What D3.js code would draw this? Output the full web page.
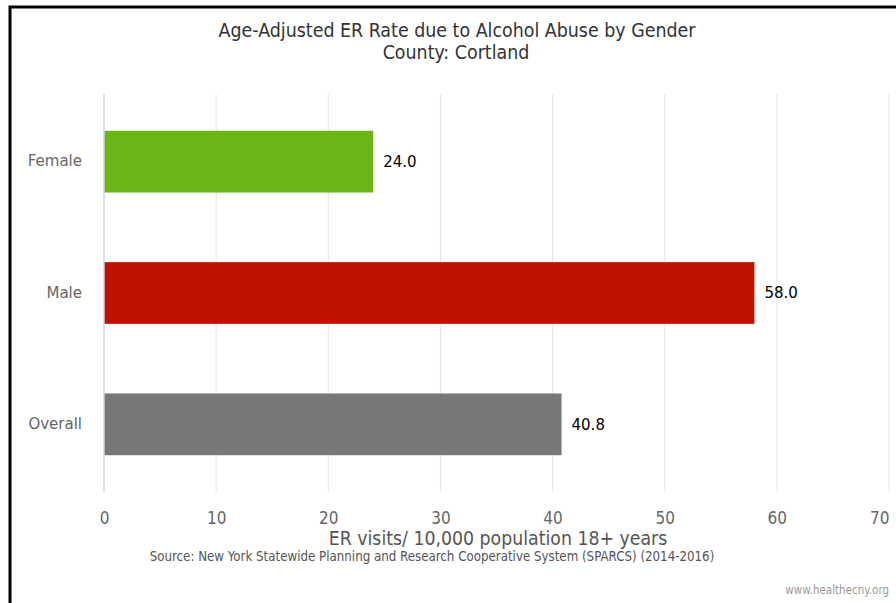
<!DOCTYPE html>
<html><head><meta charset="utf-8">
<script src="https://cdn.jsdelivr.net/npm/d3@7"></script>
<style>
html,body{margin:0;padding:0;background:#fff;}
svg{display:block;}
</style></head>
<body>
<svg id="chart" width="896" height="603"></svg>
<script>
const categories = ["Female", "Male", "Overall"];
const values = [24.0, 58.0, 40.8];
const barColors = ["#6bb516", "#bf1300", "#777777"];
const xTicks = [0, 10, 20, 30, 40, 50, 60, 70];
const titleLines = ["Age-Adjusted ER Rate due to Alcohol Abuse by Gender", "County: Cortland"];
const axisTitle = "ER visits/ 10,000 population 18+ years";
const sourceText = "Source: New York Statewide Planning and Research Cooperative System (SPARCS) (2014-2016)";
const creditText = "www.healthecny.org";

const svg = d3.select("#chart");
const W = 896, H = 603;
const plot = {left: 104, right: 889, top: 94, bottom: 492};
const condensed = "'DejaVu Sans Condensed', 'Liberation Sans Narrow', sans-serif";
const wide = "'DejaVu Sans', Verdana, sans-serif";

// frame
svg.append("rect").attr("x", 10).attr("y", 7).attr("width", W).attr("height", H)
  .attr("fill", "#fff").attr("stroke", "#000").attr("stroke-width", 3);

const x = d3.scaleLinear().domain([0, 70]).range([plot.left, plot.right]);
const y = d3.scaleBand().domain(categories).range([plot.top, plot.bottom]).paddingInner(0.53).paddingOuter(0.28);

// grid
svg.append("g").selectAll("line").data(xTicks.filter(d => d > 0)).join("line")
  .attr("x1", d => x(d)).attr("x2", d => x(d))
  .attr("y1", plot.top).attr("y2", plot.bottom)
  .attr("stroke", "#e6e6e6").attr("stroke-width", 1);

// bars
svg.append("g").selectAll("rect").data(values).join("rect")
  .attr("x", x(0))
  .attr("y", (d, i) => y(categories[i]))
  .attr("width", d => x(d) - x(0))
  .attr("height", y.bandwidth())
  .attr("fill", (d, i) => barColors[i]);

// axis line
svg.append("line").attr("x1", x(0)).attr("x2", x(0)).attr("y1", plot.top).attr("y2", plot.bottom)
  .attr("stroke", "#ccd6eb").attr("stroke-width", 1.5);

// x axis labels
const xAxis = d3.axisBottom(x).tickValues(xTicks).tickSize(0).tickPadding(0).tickFormat(d3.format("d"));
const gx = svg.append("g").attr("transform", `translate(0,${plot.bottom + 20})`).call(xAxis);
gx.select(".domain").remove();
gx.selectAll("text").attr("fill", "#666").attr("font-size", "17px").attr("font-family", condensed).attr("dy", "0.71em");
gx.selectAll(".tick").filter(d => d === xTicks[xTicks.length - 1]).select("text")
  .attr("text-anchor", "end").attr("x", 0);

// y axis labels
const yAxis = d3.axisLeft(y).tickSize(0).tickPadding(0);
const gy = svg.append("g").attr("transform", `translate(${plot.left - 22},0)`).call(yAxis);
gy.select(".domain").remove();
gy.selectAll("text").attr("fill", "#666").attr("font-size", "15px").attr("font-family", wide);

// data labels
svg.append("g").selectAll("text").data(values).join("text")
  .attr("x", d => x(d) + 10)
  .attr("y", (d, i) => y(categories[i]) + y.bandwidth() / 2)
  .attr("dy", "0.35em")
  .attr("fill", "#000").attr("font-size", "15px").attr("font-family", wide)
  .text(d => d3.format(".1f")(d));

// titles
svg.append("text").attr("x", 457).attr("y", 37).attr("text-anchor", "middle")
  .attr("fill", "#333").attr("font-size", "19.4px").attr("font-family", condensed).text(titleLines[0]);
svg.append("text").attr("x", 456).attr("y", 59).attr("text-anchor", "middle")
  .attr("fill", "#333").attr("font-size", "19.4px").attr("font-family", condensed).text(titleLines[1]);

// axis title
svg.append("text").attr("x", 498).attr("y", 545).attr("text-anchor", "middle")
  .attr("fill", "#555").attr("font-size", "19.3px").attr("font-family", condensed).text(axisTitle);
svg.append("text").attr("x", 432).attr("y", 561).attr("text-anchor", "middle")
  .attr("fill", "#555").attr("font-size", "13.2px").attr("font-family", condensed).text(sourceText);

// credit
svg.append("text").attr("x", 889).attr("y", 594).attr("text-anchor", "end")
  .attr("fill", "#999").attr("font-size", "11.5px").attr("font-family", condensed).text(creditText);
</script>
</body></html>
